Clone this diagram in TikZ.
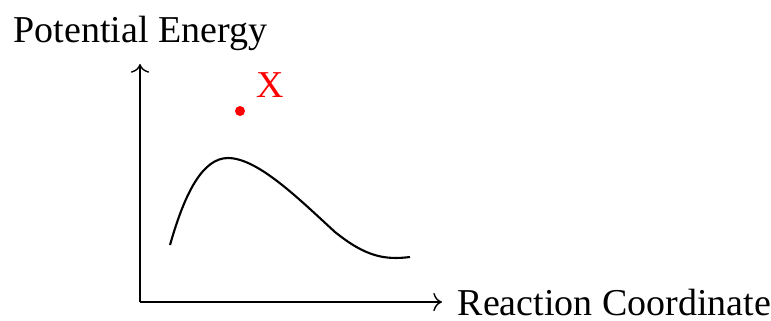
\documentclass[tikz,border=0pt]{standalone}
\usepackage{fontspec}
\setmainfont{Liberation Serif}
\usepackage{xcolor}
\usetikzlibrary{arrows.meta, calc, positioning}

\begin{document}
\begin{tikzpicture}[x=0.01cm, y=-0.01cm,
    lbl/.style={inner sep=0pt, anchor=base west, font=\fontsize{10.8}{13}\selectfont},
    axis/.style={->, thin},
    curve/.style={line width=0.6pt}]
    \useasboundingbox (0,0) rectangle (771,320);

    \coordinate (origin) at (140,302);
    \coordinate (ytip) at (140,64);
    \coordinate (xtip) at (442,302);

    \draw[axis] (origin) -- (ytip);
    \draw[axis] (origin) -- (xtip);

    \node[lbl] (ylabel) at (13,42) {Potential Energy};
    \node[lbl] (xlabel) at (457,315) {Reaction Coordinate};

    % energy profile
    \coordinate (start) at (170,245);
    \coordinate (peak) at (228,158);
    \coordinate (mid) at (335,232);
    \coordinate (stop) at (410,257);
    \draw[curve] (start) .. controls (185,192) and (203,158) .. (peak)
        .. controls (258,158) and (300,200) .. (mid)
        .. controls (366,257) and (385,260) .. (stop);

    % transition state
    \fill[red] (240,111) circle (5) coordinate (ts);
    \node[lbl, text=red] (tslabel) at (256,97) {X};
\end{tikzpicture}
\end{document}
